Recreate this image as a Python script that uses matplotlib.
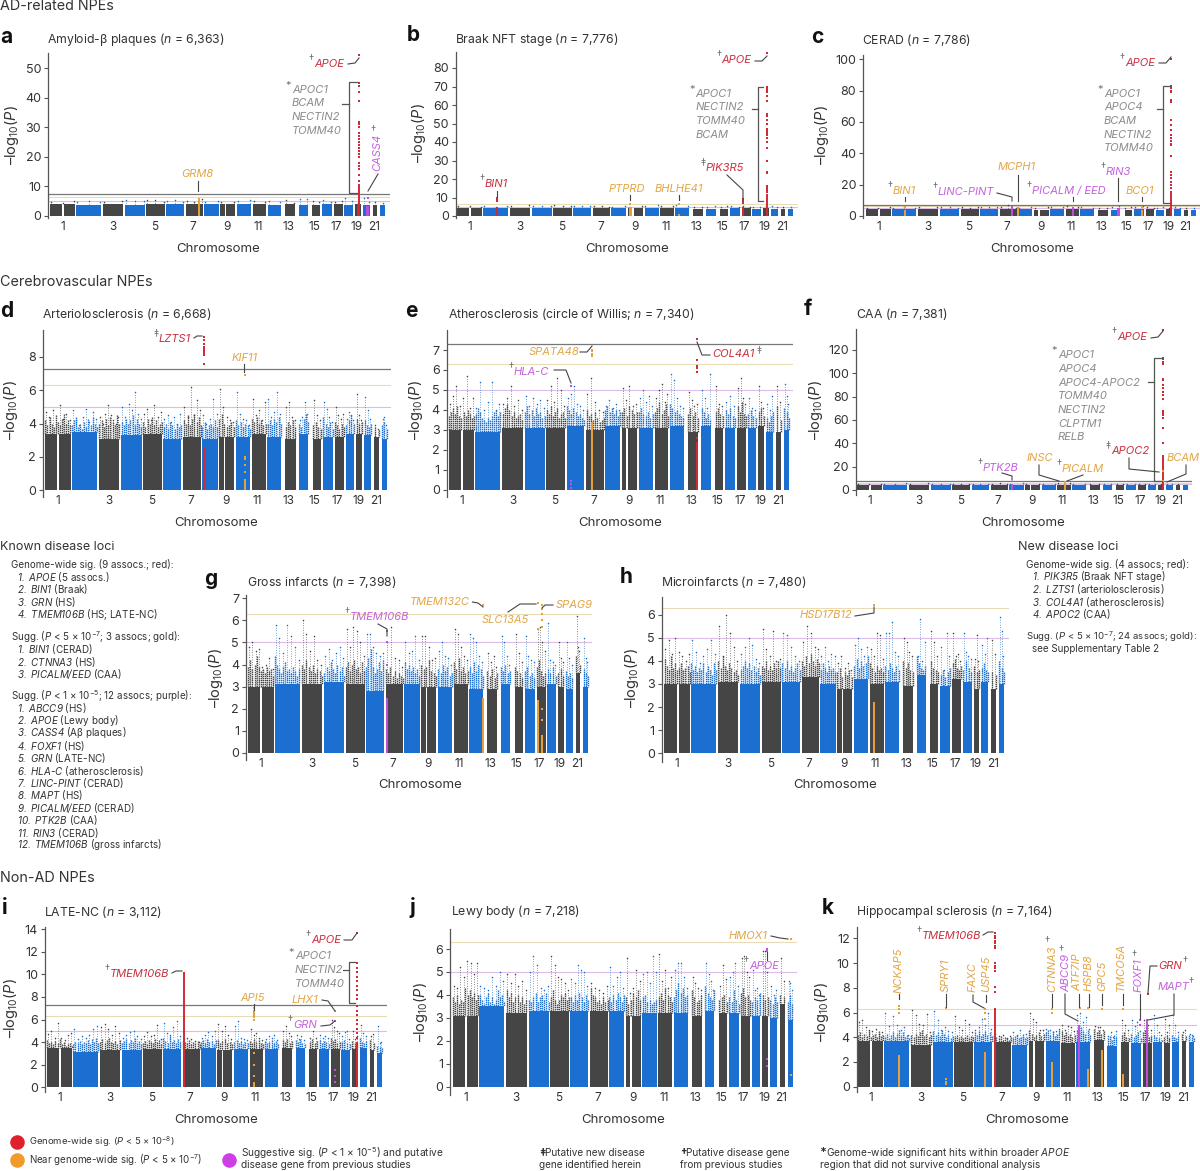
#!/usr/bin/env python
"""
Manhattan plots of neuropathology GWAS, panels a-k, with gene labels and loci lists.
"""

import numpy as np
import matplotlib
matplotlib.use("Agg")
import matplotlib.pyplot as plt
import matplotlib.font_manager as fm

W, H = 1200, 1171
GRAY = "#454545"
BLUE = "#1a6fd0"
COLORS = {"r": "#cf2a36", "g": "#e8a23a", "p": "#c14fe0", "k": "#8c8c8c"}
TEXT_COLORS = {"r": "#c9303f", "g": "#e3a645", "p": "#c562df", "k": "#8c8c8c"}
NEAR_LINE = "#e9dcb4"
SUGG_LINE = "#dcbde9"

# first family that really has an italic face
ITALIC = next(f for f in ["Inter", "Open Sans", "Roboto", "Lato", "Liberation Sans"]
              if any(e.name == f and e.style == "italic" for e in fm.fontManager.ttflist))

plt.rcParams["font.family"] = ["Inter", "DejaVu Sans"]
plt.rcParams["mathtext.fontset"] = "custom"
plt.rcParams["mathtext.rm"] = "Inter"
plt.rcParams["mathtext.it"] = ITALIC + ":italic"
plt.rcParams["mathtext.cal"] = ITALIC + ":italic"  # digits stay italic this way
plt.rcParams["mathtext.bf"] = "Inter:bold"

# chromosome extents on a shared genome axis (chr1 and chr9 have a centromere gap)
CHR_SEGMENTS = [[(0, 37), (43, 77)], [(80, 156)], [(162, 223)], [(229, 290)], [(294, 351)],
                [(355, 409)], [(415, 468)], [(471, 517)], [(521, 535), (540, 567)], [(572, 615)],
                [(620, 662)], [(666, 708)], [(720, 751)], [(761, 789)], [(803, 827)],
                [(833, 863)], [(869, 896)], [(901, 927)], [(933, 951)], [(957, 978)],
                [(987, 1001)], [(1010, 1025)]]
CHR_TICKS = [39, 192, 320, 437, 542, 637, 731, 809, 877, 939, 991]
CHR_LABELS = ["1", "3", "5", "7", "9", "11", "13", "15", "17", "19", "21"]

# top of the dense block per chromosome
A_SOLID = [3.9, 3.8, 4.1, 3.8, 4.2, 4.1, 3.9, 3.9, 3.9, 3.9, 3.9, 3.8, 4.0, 3.8, 3.8, 3.9, 4.0, 3.7, 3.9, 3.8, 3.7, 3.6]
B_SOLID = [4.2, 4.2, 4.4, 4.3, 4.3, 4.3, 4.2, 4.2, 4.1, 4.3, 4.3, 4.3, 4.0, 4.0, 3.9, 4.1, 4.2, 4.0, 4.1, 4.0, 4.0, 3.9]
C_SOLID = [4.2, 4.2, 4.4, 4.4, 4.4, 4.4, 4.3, 4.3, 4.0, 4.3, 4.5, 4.3, 4.0, 4.0, 4.1, 4.4, 4.4, 4.1, 4.2, 4.2, 3.8, 3.8]
D_SOLID = [3.4, 3.5, 3.1, 3.3, 3.4, 3.1, 3.2, 3.1, 3.2, 3.2, 3.4, 3.2, 3.1, 3.4, 3.1, 3.2, 3.2, 3.4, 3.4, 3.3, 3.2, 3.1]
E_SOLID = [3.0, 2.9, 3.1, 3.1, 3.1, 3.2, 3.0, 3.2, 3.1, 3.1, 3.1, 3.2, 2.9, 3.2, 3.1, 3.1, 3.1, 3.1, 3.2, 2.9, 2.9, 3.0]
F_SOLID = [4.2, 4.2, 4.3, 4.3, 4.3, 4.3, 4.3, 4.3, 4.2, 4.3, 4.3, 4.3, 4.2, 4.2, 4.2, 4.2, 4.2, 4.2, 4.2, 4.2, 4.0, 4.0]
G_SOLID = [3.0, 3.1, 3.1, 3.2, 3.1, 2.8, 3.1, 3.1, 3.0, 3.0, 3.1, 2.9, 2.9, 3.1, 3.0, 2.9, 3.0, 3.1, 3.0, 2.9, 3.6, 3.0]
H_SOLID = [3.0, 3.0, 3.1, 3.0, 3.1, 3.1, 3.3, 3.0, 2.8, 3.2, 3.0, 3.1, 2.9, 3.4, 3.0, 2.9, 3.2, 3.1, 2.8, 3.1, 2.8, 3.0]
I_SOLID = [3.5, 3.1, 3.3, 3.3, 3.4, 3.4, 3.4, 3.5, 3.3, 3.4, 3.4, 3.4, 3.5, 3.5, 3.4, 3.4, 3.4, 3.3, 3.4, 3.5, 3.3, 3.0]
J_SOLID = [3.1, 3.5, 3.2, 3.3, 3.3, 3.3, 3.3, 3.3, 3.1, 3.2, 3.2, 3.2, 3.1, 3.3, 3.2, 3.2, 3.1, 3.1, 3.1, 3.0, 3.6, 2.9]
K_SOLID = [3.7, 3.7, 3.4, 3.6, 3.6, 3.6, 3.6, 3.4, 3.7, 3.7, 3.5, 3.6, 3.8, 3.3, 3.6, 3.5, 3.5, 3.6, 3.5, 3.6, 3.7, 3.6]

# fuzzy upper edge of the dense block, read chromosome by chromosome
D_SHOULDER = [[4.2, 3.9, 4.4, 4.0, 3.8, 4.5, 4.1, 3.9, 4.3, 4.6, 4.0, 4.2, 3.9], [3.9, 4.2, 4.4, 3.8, 4.0, 3.7, 4.1, 3.8, 4.3, 3.9, 4.4, 4.0, 3.8],
              [4.0, 4.2, 3.8, 4.3, 3.9, 4.4, 4.1, 3.9, 4.5, 4.0], [4.1, 3.9, 4.3, 4.0, 4.2, 4.5, 3.9, 4.3, 4.0, 3.8], [4.1, 3.8, 4.3, 4.0, 4.4, 3.9, 4.2, 3.8, 4.0, 4.1],
              [3.8, 4.0, 3.7, 4.1, 3.9, 3.7, 4.0, 3.8, 3.9], [4.2, 4.0, 4.5, 3.9, 4.3, 4.6, 4.1, 4.4, 3.9], [3.8, 4.1, 3.7, 3.9, 4.0, 3.8, 4.2, 3.8],
              [4.3, 4.6, 4.0, 3.8, 3.9, 4.1, 3.8], [4.2, 3.9, 4.1, 3.8, 4.0, 3.9, 3.7], [4.3, 4.1, 4.4, 4.0, 4.2, 3.9, 4.0], [4.0, 4.2, 3.9, 4.3, 4.1, 4.4, 4.0],
              [3.8, 4.1, 3.9, 4.2, 3.8], [4.0, 3.8, 4.3, 4.6, 4.1], [3.9, 4.1, 3.8, 3.7], [4.4, 4.0, 3.8, 4.1, 3.7], [4.1, 3.9, 3.7, 4.0, 3.8],
              [3.9, 4.2, 4.5, 4.0], [4.3, 4.0, 4.1], [4.2, 3.9, 3.8, 4.0], [3.8, 3.6], [3.9, 4.1, 3.7]]
E_SHOULDER = [[3.7, 3.9, 4.1, 3.8, 4.2, 3.7, 3.6, 3.9, 3.7, 4.0, 3.8, 3.6, 3.7], [3.8, 4.1, 3.9, 3.6, 3.5, 3.4, 3.6, 3.5, 3.7, 3.9, 4.0, 3.7, 3.9],
              [3.8, 4.1, 4.3, 4.0, 3.7, 3.9, 3.6, 3.7, 3.8, 3.5], [3.9, 4.2, 3.8, 4.0, 3.7, 4.1, 3.8, 3.9, 3.6, 3.7], [4.0, 3.8, 4.2, 3.7, 3.9, 4.1, 3.6, 3.8, 3.9, 3.6],
              [4.2, 4.0, 3.8, 4.1, 3.9, 3.7, 3.8, 3.6, 3.5], [4.0, 3.7, 3.8, 3.5, 3.9, 3.6, 3.4, 3.5, 3.6], [4.0, 4.2, 3.9, 4.1, 3.8, 4.0, 3.7, 3.9],
              [3.9, 4.1, 3.7, 4.2, 4.0, 3.8, 3.9], [3.9, 4.1, 3.8, 3.7, 3.9, 3.6, 3.8], [3.9, 4.1, 4.4, 3.8, 4.0, 4.3, 3.7], [4.3, 4.1, 3.9, 4.0, 3.8, 3.7, 3.6],
              [3.8, 4.1, 3.7, 3.9, 3.6], [4.1, 3.9, 3.6, 3.8, 3.5], [3.9, 4.1, 3.8, 3.7], [4.0, 3.8, 4.1, 3.7, 3.6], [4.2, 3.9, 4.4, 3.8, 3.7],
              [3.8, 4.0, 3.7, 3.6], [3.9, 4.1, 3.7], [3.6, 3.4, 3.7, 3.9], [4.2, 3.5], [4.1, 3.9, 3.6]]
G_SHOULDER = [[3.9, 4.2, 3.8, 4.0, 4.4, 3.9, 3.7, 3.8, 3.6, 3.9, 3.7, 3.8, 3.5], [4.4, 4.0, 3.8, 3.6, 3.9, 4.1, 3.7, 3.8, 3.6, 3.9, 3.7, 3.5, 3.8],
              [4.0, 3.8, 4.2, 3.9, 3.7, 4.0, 3.6, 3.8, 3.7, 3.5], [3.6, 3.9, 3.7, 4.1, 3.8, 3.6, 4.0, 3.7, 3.9, 3.5], [3.9, 4.1, 3.7, 4.0, 4.2, 3.8, 3.9, 3.6, 4.1, 3.7],
              [3.9, 4.3, 4.7, 3.9, 3.6, 3.8, 4.1, 3.7, 4.2], [3.8, 3.6, 3.9, 3.5, 3.7, 3.4, 3.6, 3.5, 3.4], [4.1, 3.8, 4.0, 3.7, 3.9, 3.6, 3.8, 3.5],
              [4.0, 3.8, 3.9, 4.2, 3.7, 3.6, 3.5], [3.8, 3.6, 4.0, 3.7, 3.9, 3.5, 3.6], [4.1, 3.8, 4.3, 3.7, 3.9, 3.6, 3.7], [3.9, 3.6, 4.1, 3.7, 4.0, 3.8, 3.5],
              [3.7, 3.5, 3.8, 3.4, 3.6], [3.9, 3.7, 4.0, 3.6, 3.7], [3.9, 3.7, 3.6, 3.4], [3.7, 3.9, 3.5, 3.6, 3.4], [3.9, 4.2, 3.7, 3.5, 3.6],
              [3.8, 3.6, 3.9, 3.5], [3.6, 3.8, 3.5], [3.7, 3.5, 3.6, 3.4], [4.4, 4.0], [3.8, 3.6, 3.5]]
H_SHOULDER = [[4.1, 3.8, 3.6, 4.2, 3.7, 3.9, 3.6, 3.7, 3.9, 3.6, 3.7, 3.8, 3.5], [3.9, 3.6, 3.8, 3.5, 3.7, 3.6, 3.9, 3.5, 3.8, 3.6, 3.4, 3.9, 3.6],
              [4.0, 3.7, 4.2, 3.8, 3.6, 3.9, 3.7, 3.5, 3.6, 3.4], [3.6, 3.8, 4.0, 3.7, 3.9, 3.6, 3.8, 3.5, 3.7, 3.4], [3.8, 3.7, 4.0, 3.6, 3.8, 3.6, 3.9, 3.7, 4.0, 3.7],
              [3.9, 3.7, 4.0, 3.6, 3.8, 3.5, 3.7, 3.9, 3.6], [4.0, 3.8, 4.2, 3.9, 4.3, 4.0, 3.8, 4.1, 3.9], [3.6, 3.9, 3.7, 3.5, 3.8, 3.6, 3.7, 3.5],
              [3.5, 3.7, 3.3, 3.5, 3.4, 3.6, 3.3], [3.8, 4.1, 3.7, 4.0, 3.8, 3.9, 4.2], [3.9, 3.7, 3.5, 3.8, 3.6, 3.7, 3.5], [3.8, 3.6, 3.9, 3.7, 3.5, 3.8, 3.6],
              [4.0, 3.7, 3.9, 3.6, 3.5], [4.2, 3.9, 3.7, 3.6, 3.8], [4.0, 3.7, 3.6, 3.5], [3.4, 3.6, 3.3, 3.5, 3.7], [3.9, 4.1, 3.7, 3.6, 3.8],
              [3.6, 4.0, 3.7, 3.5], [3.8, 3.5, 3.6], [3.7, 3.9, 3.6, 3.5], [3.5, 3.4], [4.0, 3.7, 3.5]]
I_SHOULDER = [[4.2, 3.9, 4.0, 3.8, 4.1, 3.9, 4.3, 3.8, 4.0, 3.7, 3.8, 3.9, 3.7], [3.8, 4.0, 3.9, 4.1, 3.8, 4.0, 3.9, 4.2, 3.8, 4.3, 4.0, 4.4, 3.9],
              [4.0, 4.3, 3.9, 4.2, 4.4, 4.0, 3.9, 4.1, 3.8, 4.2], [3.9, 4.1, 4.3, 3.9, 4.2, 4.0, 4.4, 3.9, 4.1, 3.8], [3.9, 4.1, 3.8, 4.2, 4.0, 3.9, 4.3, 4.0, 4.2, 3.8],
              [4.4, 4.1, 3.9, 4.5, 4.0, 4.2, 3.9, 4.3, 4.0], [4.1, 4.0, 3.9, 4.2, 3.8, 4.0, 3.9, 4.1, 3.8], [4.0, 4.2, 3.9, 4.3, 4.0, 4.1, 3.8, 4.2],
              [4.2, 3.9, 4.1, 4.3, 3.9, 4.0, 3.8], [4.0, 4.2, 3.9, 4.1, 3.8, 4.0, 3.9], [4.1, 3.9, 4.3, 4.0, 4.2, 3.9, 3.8], [4.1, 3.9, 4.0, 4.2, 3.9, 4.1, 3.8],
              [4.2, 4.0, 4.3, 3.9, 4.1], [4.2, 4.0, 4.3, 3.9, 3.8], [4.0, 4.3, 3.9, 4.1], [4.2, 3.9, 4.1, 4.0, 3.8], [4.4, 4.1, 4.3, 3.9, 4.0],
              [4.0, 4.2, 3.9, 3.8], [4.1, 3.9, 4.0], [4.4, 4.0, 3.9, 4.1], [4.2, 3.9], [3.7, 3.6, 3.5]]
J_SHOULDER = [[3.9, 3.7, 4.0, 3.6, 3.8, 3.7, 4.3, 4.0, 4.2, 3.9, 4.1, 3.8, 4.0], [4.0, 3.8, 3.6, 3.9, 4.1, 3.7, 3.9, 3.6, 3.8, 4.2, 3.9, 4.0, 3.7],
              [4.2, 3.9, 4.1, 3.7, 3.9, 4.0, 3.7, 3.9, 3.6, 3.8], [3.8, 3.7, 3.9, 4.1, 3.7, 3.9, 4.0, 3.8, 4.1, 3.7], [3.9, 4.2, 3.8, 3.6, 3.8, 4.0, 3.9, 4.1, 3.8, 3.9],
              [3.9, 3.7, 4.0, 3.8, 4.1, 3.9, 3.7, 4.0, 3.8], [4.3, 4.0, 3.9, 3.7, 3.8, 3.6, 3.9, 3.7, 3.8], [3.9, 3.7, 4.0, 3.8, 4.1, 3.9, 3.7, 4.0],
              [3.9, 3.6, 3.8, 4.1, 3.9, 4.2, 3.8], [3.9, 4.0, 3.7, 3.8, 3.6, 3.7, 3.8], [3.9, 4.1, 3.8, 4.3, 4.0, 3.9, 3.7], [3.9, 4.2, 4.5, 4.1, 4.3, 3.9, 4.0],
              [4.2, 3.9, 3.7, 3.8, 4.0], [4.4, 4.1, 3.9, 3.8, 4.2], [3.8, 3.9, 4.0, 3.7], [3.9, 3.7, 4.2, 3.8, 3.6], [4.1, 4.3, 3.9, 4.0, 3.8],
              [3.7, 3.9, 3.8, 4.1], [4.0, 3.8, 3.9], [3.8, 3.6, 3.9, 3.7], [4.0, 3.9], [3.7, 4.0, 3.6]]
K_SHOULDER = [[4.2, 4.4, 4.0, 4.3, 4.1, 4.5, 4.0, 4.2, 4.3, 4.0, 4.5, 4.1, 4.2], [4.0, 4.3, 3.9, 4.2, 4.4, 4.0, 4.3, 4.6, 4.1, 4.4, 4.0, 4.2, 3.9],
              [4.2, 4.0, 4.3, 4.1, 4.4, 4.6, 4.1, 4.3, 4.0, 4.2], [4.5, 4.2, 4.4, 4.1, 4.6, 4.3, 4.0, 4.2, 3.9, 4.1], [4.0, 4.2, 3.9, 4.1, 3.9, 4.0, 4.2, 3.9, 4.1, 4.0],
              [4.4, 4.2, 4.5, 4.1, 4.3, 4.5, 4.2, 4.4, 4.1], [4.2, 4.0, 3.9, 4.1, 3.8, 4.0, 3.9, 3.8, 4.0], [3.9, 4.1, 4.2, 3.9, 4.0, 4.3, 3.9, 4.0],
              [4.6, 4.3, 4.0, 4.2, 4.4, 4.1, 4.3], [4.4, 4.6, 4.2, 4.5, 4.1, 4.3, 4.6], [4.5, 4.2, 4.4, 4.1, 4.3, 4.0, 4.2], [4.6, 4.4, 4.8, 4.5, 4.3, 4.6, 4.2],
              [4.7, 4.4, 4.6, 4.3, 4.5], [3.9, 4.1, 3.8, 4.2, 4.0], [4.2, 4.4, 4.0, 3.9], [4.3, 4.0, 4.2, 4.4, 3.9], [4.4, 4.6, 4.2, 4.0, 4.1],
              [4.2, 4.0, 3.9, 3.8], [4.0, 4.2, 3.9], [4.2, 4.0, 3.9, 4.1], [4.3, 4.1], [4.2, 4.0, 3.9]]
SHOULDERS = dict(d=D_SHOULDER, e=E_SHOULDER, g=G_SHOULDER, h=H_SHOULDER, i=I_SHOULDER, j=J_SHOULDER, k=K_SHOULDER)

# tallest scattered association
A_PEAKS = [[4.9, 4.5, 5.0], [4.8, 5.0, 4.6], [4.6, 5.1], [5.4, 5.0, 5.2], [5.3, 5.5, 4.9], [5.2, 5.3, 4.8], [5.2, 4.8, 5.6],
           [4.8, 5.2], [4.6, 4.7], [5.1, 5.4], [5.0, 4.7], [5.2, 4.9], [5.5, 4.5], [5.9, 5.7], [5.0, 4.6], [5.4, 4.8],
           [4.9, 5.0], [6.0, 5.2], [4.4], [6.0, 4.6], [4.7], [4.4]]
B_PEAKS = [[5.2, 5.5, 5.0], [5.4, 5.0, 5.6], [5.4, 5.9], [5.6, 5.4, 5.2], [5.8, 5.2, 5.4], [5.5, 5.3, 5.6], [5.2, 5.4, 5.0],
           [5.0, 5.5], [5.1, 5.2], [5.3, 5.8], [5.6, 5.2], [5.9, 5.2], [5.1, 5.0], [5.0, 5.3], [4.8, 5.2], [5.5, 5.0],
           [5.4, 5.1], [5.0, 5.1], [5.4], [5.6, 5.1], [5.0], [4.6]]
C_PEAKS = [[5.4, 5.0, 6.0], [5.4, 5.8, 5.0], [5.6, 6.0], [5.5, 6.0, 5.3], [5.8, 5.4, 5.6], [5.6, 5.5, 5.8], [5.8, 7.0, 5.4],
           [5.4, 5.7], [5.2, 5.5], [5.5, 5.8], [6.5, 5.6], [5.6, 5.4], [5.2, 5.0], [5.6, 6.2], [5.4, 5.8], [5.6, 6.4],
           [5.8, 5.4], [5.2, 5.5], [5.4], [5.8, 5.2], [5.0], [4.8]]
F_PEAKS = [[5.2, 5.5, 5.0], [5.4, 5.0, 5.6], [5.4, 5.6], [5.4, 5.5, 5.2], [5.5, 5.2, 5.4], [5.5, 5.3, 5.5], [5.2, 5.6, 5.0],
           [5.0, 5.6], [5.1, 5.2], [5.3, 5.5], [5.6, 6.0], [5.5, 5.2], [5.1, 5.0], [5.0, 5.3], [5.0, 5.2], [5.5, 5.0],
           [5.4, 5.1], [5.0, 5.1], [5.4], [5.4, 5.1], [5.0], [4.6]]
D_PEAKS = [[4.7, 4.4, 4.8, 4.0, 5.1, 4.3, 4.6, 4.2], [4.8, 4.2, 3.9, 4.4, 4.9, 4.1, 4.7, 4.3], [4.4, 4.0, 4.6, 5.1, 4.5, 4.2, 4.0, 4.4],
           [5.0, 4.4, 5.2, 4.8, 5.9, 4.6, 4.3], [4.6, 4.9, 4.2, 5.1, 4.4, 4.7], [4.3, 4.5, 4.1, 4.4, 4.0, 4.6], [5.0, 4.4, 6.2, 4.5, 5.4, 4.8],
           [4.5, 4.0, 4.3, 5.5, 4.6], [6.1, 5.0, 4.4, 4.2, 4.1], [5.9, 4.6, 4.3, 4.2, 3.9], [5.5, 4.5, 4.8, 4.2, 5.3], [5.5, 4.4, 4.7, 5.9, 4.6],
           [5.0, 5.3, 4.4, 4.2], [4.2, 4.4, 5.3, 4.6], [5.4, 4.5, 4.2], [5.3, 4.9, 4.4, 4.1], [5.0, 4.5, 4.3, 4.6], [4.3, 4.7, 4.5, 4.2],
           [5.8, 4.5, 4.2], [5.6, 4.8, 4.3], [3.9, 3.7], [4.3, 4.4, 3.9]]
E_PEAKS = [[4.3, 4.7, 5.2, 4.2, 4.6, 5.7, 4.1, 4.6], [4.1, 5.4, 4.0, 4.4, 5.4, 4.0, 4.3], [4.3, 4.6, 5.2, 4.2, 4.5, 4.0],
           [4.7, 4.2, 4.6, 4.3, 4.5, 4.1], [4.5, 5.2, 4.4, 5.6, 5.0, 4.2], [4.6, 4.8, 5.2, 4.3, 4.2, 4.0], [4.8, 5.6, 4.4, 4.0, 3.9],
           [4.2, 4.5, 4.1, 4.3, 4.0], [5.1, 4.5, 5.2, 4.2, 4.3], [4.6, 5.0, 4.4, 4.7, 4.2], [4.6, 5.0, 5.3, 4.4, 4.8], [5.8, 5.5, 4.6, 4.2, 4.1],
           [4.9, 4.5, 4.2, 4.3], [5.0, 4.6, 4.1, 5.8], [5.2, 4.3, 4.2], [4.4, 4.7, 4.2], [5.1, 5.6, 4.6, 4.3], [4.6, 4.1, 4.0],
           [5.2, 4.4, 4.1], [4.3, 4.0, 4.7], [5.2, 4.4], [5.3, 4.7, 4.3]]
G_PEAKS = [[4.8, 5.0, 4.6, 4.7, 3.9, 4.0, 4.3, 3.8], [5.8, 5.2, 4.5, 5.8, 5.3, 4.8, 4.2], [6.0, 5.4, 4.6, 5.3, 4.2, 4.0],
           [4.4, 4.7, 4.2, 4.5, 4.8, 4.3], [5.6, 4.8, 5.7, 5.5, 5.0, 4.4], [5.4, 5.4, 4.8, 4.5, 4.4, 4.5], [5.0, 5.7, 4.3, 4.2, 3.9],
           [5.0, 4.5, 4.6, 5.3, 4.2], [5.3, 5.3, 4.8, 4.2, 4.3], [4.6, 5.0, 4.4, 4.3, 4.0], [5.6, 5.4, 4.8, 4.4, 4.2], [5.4, 5.2, 5.0, 4.4, 4.1],
           [4.5, 4.1, 4.4, 3.9], [5.3, 5.0, 4.4, 4.0], [5.4, 4.5, 4.1], [5.3, 4.4, 4.2, 4.1], [5.6, 5.7, 5.0, 4.6], [5.9, 4.2, 4.1, 4.0],
           [5.0, 4.3, 4.1], [5.0, 4.3, 4.0], [6.2, 4.8, 4.6], [5.2, 4.3, 4.1]]
H_PEAKS = [[4.5, 4.9, 4.3, 5.0, 4.4, 4.2, 4.0, 4.3], [4.9, 4.4, 3.9, 4.2, 4.5, 4.9, 4.3], [5.5, 4.2, 6.0, 5.2, 4.6, 4.0],
           [4.3, 4.6, 5.0, 4.7, 4.1, 3.9], [5.4, 4.5, 4.2, 5.3, 4.0, 4.1], [5.2, 5.1, 4.6, 4.2, 4.0], [4.8, 5.5, 5.2, 4.6, 4.5],
           [4.2, 4.6, 4.0, 4.3, 4.2], [3.9, 4.2, 3.7, 3.9, 3.6], [4.7, 5.0, 4.5, 4.2, 4.6], [4.5, 4.2, 5.2, 5.1, 4.1], [5.2, 5.2, 5.7, 4.4, 4.2],
           [5.0, 4.8, 4.4, 4.2], [4.2, 5.8, 4.0, 4.8], [5.3, 4.8, 4.2], [4.6, 3.6, 5.2, 4.2], [5.2, 4.2, 4.3, 4.0], [5.2, 4.4, 4.2, 4.1],
           [4.1, 5.1, 4.0], [4.7, 4.3, 5.0], [4.9, 4.3], [5.9, 5.3, 4.2]]
I_PEAKS = [[4.7, 5.0, 4.4, 5.7, 4.4, 4.2, 4.6, 4.8], [5.2, 4.3, 4.5, 4.4, 4.6, 5.2, 5.4], [5.3, 5.6, 5.2, 4.6, 5.4, 4.8],
           [4.4, 4.6, 4.9, 5.0, 4.5, 4.3], [4.5, 4.9, 4.5, 4.6, 5.5, 4.3], [5.7, 4.8, 4.6, 5.3, 5.9, 4.5], [4.3, 4.4, 4.3, 4.1, 4.0],
           [4.4, 4.6, 4.9, 4.5, 5.0], [5.6, 5.0, 5.4, 4.6, 4.3], [5.4, 5.9, 4.4, 4.3, 4.2], [5.2, 4.6, 4.8, 4.4, 4.2], [4.3, 4.5, 4.4, 4.6, 4.2],
           [5.0, 5.4, 4.8, 4.5], [4.6, 4.3, 4.5, 4.2], [4.4, 5.0, 4.4], [4.6, 4.4, 4.5, 4.4], [6.0, 5.3, 5.0, 4.8], [4.5, 4.9, 5.0, 4.3],
           [5.0, 4.3, 4.5], [5.5, 4.8, 4.5], [4.5, 4.7], [5.4, 3.9, 4.0]]
J_PEAKS = [[4.4, 4.3, 5.2, 4.8, 5.5, 5.4, 4.9, 5.4], [4.4, 4.3, 4.2, 4.8, 4.4, 5.0, 4.6], [4.9, 4.5, 4.9, 4.4, 4.6, 4.2],
           [5.0, 5.7, 5.3, 4.3, 4.2, 4.4], [5.7, 5.3, 4.8, 4.7, 4.5, 4.2], [4.7, 4.5, 5.3, 5.1, 5.0, 4.4], [4.5, 4.3, 4.2, 4.1, 4.4],
           [5.2, 4.4, 4.8, 5.0, 4.3], [5.6, 4.1, 4.3, 5.1, 4.6], [4.9, 5.0, 4.5, 5.7, 5.0], [5.8, 4.6, 5.1, 4.3, 4.8], [5.1, 5.4, 5.4, 4.8, 4.3],
           [4.8, 4.5, 4.3, 4.2], [5.4, 4.9, 4.6, 4.2], [4.4, 5.3, 4.7], [4.8, 5.0, 5.4, 4.4], [5.6, 5.7, 5.0, 4.8], [5.1, 4.2, 4.3, 4.0],
           [5.9, 5.9, 5.0], [4.4, 4.0, 4.2], [5.6, 4.6], [4.6, 4.5, 4.2]]
K_PEAKS = [[5.2, 5.4, 4.8, 4.6, 4.5, 4.7, 4.3, 4.4], [6.0, 4.9, 5.7, 5.0, 4.6, 4.8, 4.2], [6.2, 5.8, 5.1, 5.0, 5.9, 4.4],
           [6.1, 5.4, 4.6, 4.8, 4.5, 4.4], [5.7, 4.8, 4.6, 5.4, 5.1, 4.4], [4.6, 4.8, 5.5, 5.0, 6.0, 4.7], [4.3, 4.1, 4.2, 3.9, 4.1],
           [4.4, 4.2, 4.6, 4.0, 4.3], [6.0, 5.5, 5.2, 4.6, 4.6], [4.7, 4.6, 4.4, 4.5, 4.7], [5.0, 4.6, 4.9, 4.8, 4.5], [5.8, 6.0, 5.2, 5.6, 4.7],
           [4.9, 4.8, 4.8, 4.6], [4.1, 4.4, 4.0, 4.5], [5.4, 5.0, 4.6], [5.4, 4.9, 5.2, 4.5], [5.4, 4.8, 5.0, 4.6], [5.8, 5.0, 4.4, 4.2],
           [5.5, 4.4, 5.0], [5.8, 5.0, 4.4], [4.4, 4.6], [4.3, 4.2, 4.1]]

# highlighted loci: genome position, class, solid column height, separate points
A_HITS = [(946, "r", 11, [54.5, 45, 44, 42, 39, 32, 31, 30, 28, 27, 26, 25, 24, 23, 22, 21, 20, 18, 17, 16, 14, 12]),
          (941, "r", 4, []), (456, "g", 6, []), (970, "p", 3.5, []), (974, "p", 3.5, []), (973, "p", 0, [6])]
B_HITS = [(946, "r", 12, [88, 70, 69, 68, 67, 65, 62, 55, 54, 52, 50, 47, 46, 45, 44, 42, 40, 37, 30, 24, 23, 16, 15, 14, 13]),
          (122, "r", 5, [8, 9, 10]), (527, "g", 5, [6.5]), (531, "g", 5, []), (676, "g", 1, [6.5]), (871, "r", 5, [7, 8, 9])]
C_HITS = [(947, "r", 16, [100, 83, 82, 80, 79, 74, 73, 61, 58, 55, 52, 50, 48, 46, 45, 38, 28, 26, 24, 22, 20, 18]),
          (121, "g", 4, [6]), (453, "p", 5, [5.5]), (471, "g", 6, []), (643, "p", 6, []), (783, "p", 5, []),
          (787, "p", 5, []), (857, "g", 4, [6])]
D_HITS = [(476, "r", 2.6, [9.2, 9.0, 8.8, 8.6, 8.5, 8.4, 8.3, 8.2, 8.1, 7.6]),
          (598, "g", 0.7, [1.1, 1.5, 1.9, 2.0, 6.9])]
E_HITS = [(748, "r", 2.4, [7.55, 6.5, 6.2, 6.1, 5.9, 2.6]), (432, "g", 3.4, [7.0, 6.95, 6.8, 6.7]),
          (367, "p", 0, [0.1, 0.3, 0.45, 5.2])]
F_HITS = [(947, "r", 30, [137, 113, 112, 110, 108, 95, 94, 90, 87, 84, 81, 78, 68, 66, 64, 62, 53, 40]),
          (481, "p", 5, []), (644, "g", 8, []), (948, "g", 0, [16, 8])]
G_HITS = [(420, "p", 2.5, [4.0, 5.0, 5.5]), (708, "g", 2.5, [6.7]), (873, "g", 2.4, [6.8, 5.6]),
          (885, "g", 0.8, [1.5, 2.0, 6.7, 6.5, 6.3, 6.0, 5.7])]
H_HITS = [(632, "g", 2.2, [6.4])]
I_HITS = [(419, "r", 10.2, []), (947, "r", 4, [13.7, 11, 10.6, 10.2, 9.8, 9.4, 9, 8.6, 8.2, 7.8, 7.2, 6.8, 6.4, 6, 5.6, 5.2, 4.8, 4.4]),
          (632, "g", 0.5, [1, 2, 3, 6, 6.2, 6.4, 6.6, 6.8, 7]), (880, "g", 0, [6.8]), (882, "p", 0, [0.5, 1, 1.5, 5.9])]
J_HITS = [(1019, "g", 0, [6.45, 0.5]), (947, "p", 0, [0.9, 1.2, 6.0, 5.9])]
K_HITS = [(419, "r", 6.4, [12.4, 12.2, 12, 11.8, 11.6, 11.4, 11.2, 10, 9.8, 9.6, 9.4, 8.1, 7.7]),
          (124, "g", 2.6, [6.0, 6.3, 6.5]), (269, "g", 0, [0.2, 0.4, 0.6, 6.4]), (388, "g", 2.8, [5.5, 6.0, 6.3]),
          (592, "g", 2.0, [6.0, 6.3]), (674, "p", 5.0, []), (678, "g", 0, [6.4]), (703, "g", 1.4, [6.4]),
          (743, "g", 3.0, [6.3]), (808, "g", 1.0, [6.3]), (860, "p", 0, [5.0, 5.4]), (883, "p", 5.5, []), (884, "r", 0, [7.5])]

Y_TICKS = {"a": range(0, 51, 10), "b": range(0, 81, 10), "c": range(0, 101, 20), "d": range(0, 9, 2),
           "e": range(0, 8), "f": range(0, 121, 20), "g": range(0, 8), "h": range(0, 7), "i": range(0, 15, 2),
           "j": range(0, 7), "k": range(0, 13, 2)}

TITLES = {"a": r"Amyloid-β plaques ($n$ = 6,363)", "b": r"Braak NFT stage ($n$ = 7,776)", "c": r"CERAD ($n$ = 7,786)",
          "d": r"Arteriolosclerosis ($n$ = 6,668)", "e": r"Atherosclerosis (circle of Willis; $n$ = 7,340)",
          "f": r"CAA ($n$ = 7,381)", "g": r"Gross infarcts ($n$ = 7,398)", "h": r"Microinfarcts ($n$ = 7,480)",
          "i": r"LATE-NC ($n$ = 3,112)", "j": r"Lewy body ($n$ = 7,218)", "k": r"Hippocampal sclerosis ($n$ = 7,164)"}

SOLIDS = dict(a=A_SOLID, b=B_SOLID, c=C_SOLID, d=D_SOLID, e=E_SOLID, f=F_SOLID, g=G_SOLID, h=H_SOLID, i=I_SOLID, j=J_SOLID, k=K_SOLID)
PEAKS = dict(a=A_PEAKS, b=B_PEAKS, c=C_PEAKS, d=D_PEAKS, e=E_PEAKS, f=F_PEAKS, g=G_PEAKS, h=H_PEAKS, i=I_PEAKS, j=J_PEAKS, k=K_PEAKS)
HITS = dict(a=A_HITS, b=B_HITS, c=C_HITS, d=D_HITS, e=E_HITS, f=F_HITS, g=G_HITS, h=H_HITS, i=I_HITS, j=J_HITS, k=K_HITS)
GENOME_LINE = "acdefi"

# panel layout in pixels: spine x, data left, data right, line end, top, zero y, px per unit, spine bottom
LAYOUT = {"a": (48, 50, 385, 390, 53, 216, 2.953, 218),
          "b": (455.7, 457, 793, 798, 52, 216, 1.85, 218),
          "c": (863, 866, 1196, 1200, 55, 216, 1.567, 218),
          "d": (43, 45, 387, 391, 330, 490.3, 16.67, 497),
          "e": (446.7, 448.7, 789, 793, 330, 489.7, 19.95, 497),
          "f": (855.7, 857, 1188, 1192, 329, 490, 1.167, 495),
          "g": (246, 248, 588.4, 592, 595, 752.7, 22.05, 760),
          "h": (661.8, 664.4, 1004, 1008.5, 596.7, 753.3, 23.1, 761.7),
          "i": (45, 47, 382, 387, 927, 1087.3, 11.29, 1091.7),
          "j": (450.3, 452.7, 792.7, 797, 929, 1086.7, 22.94, 1095),
          "k": (856.7, 858, 1194, 1197, 927, 1086.7, 12.36, 1091.7)}
XLABEL_POS = {"a": (218, 249), "b": (627, 249), "c": (1032, 249), "d": (216, 523), "e": (620, 523), "f": (1023, 523),
              "g": (420, 785), "h": (835, 785), "i": (216, 1120), "j": (623, 1120), "k": (1027, 1120)}
YLABEL_POS = {"a": (12, 135), "b": (419, 133), "c": (822, 135), "d": (11, 410), "e": (416, 410), "f": (816, 410),
              "g": (216, 678), "h": (632, 678), "i": (11, 1008), "j": (421, 1012), "k": (822, 1012)}
TITLE_POS = {"a": (47, 40), "b": (455, 40), "c": (862, 40), "d": (42, 314), "e": (447.5, 314), "f": (856, 314),
             "g": (247, 581.7), "h": (661.4, 581.7), "i": (44.5, 911.7), "j": (451, 911.7), "k": (856, 911.7)}
LETTER_POS = {"a": (0, 37), "b": (407, 35), "c": (811, 37), "d": (0, 311), "e": (405, 311), "f": (804, 309),
              "g": (204, 579), "h": (620, 577), "i": (2, 908), "j": (409, 908), "k": (822, 908)}


def draw_manhattan(fig, key):
    spine, left, right, end, top, zero, scale, bottom = LAYOUT[key]
    ax = fig.add_axes([spine / W, 1 - bottom / H, (end - spine) / W, (bottom - top) / H])
    per_unit = (right - left) / 1025
    ax.set_xlim((spine - left) / per_unit, (end - left) / per_unit)
    ax.set_ylim((zero - bottom) / scale, (zero - top) / scale)

    for i, segments in enumerate(CHR_SEGMENTS):
        color = GRAY if i % 2 == 0 else BLUE
        solid = SOLIDS[key][i]
        for start, stop in segments:
            ax.bar(start, solid, width=stop - start, align="edge", color=color, linewidth=0, zorder=2)
        first, last = segments[0][0], segments[-1][1]
        # stems run from the tip down so the dash phase does not line up across stems
        if key in SHOULDERS:
            edge = SHOULDERS[key][i]
            xs = np.linspace(first + 1, last - 1, len(edge))
            ax.vlines(xs, edge, solid, color=color, lw=1.0, linestyles=(0, (1, 0.5)), zorder=2)
        peaks = PEAKS[key][i]
        xs = np.linspace(first + 3, last - 3, len(peaks)) if len(peaks) > 1 else [(first + last) / 2]
        ax.vlines(xs, peaks, solid, color=color, lw=0.55, linestyles=(0, (1, 2.2)), zorder=2)
        ax.scatter(xs, peaks, s=1.2, color=color, linewidths=0, zorder=2)

    ax.axhline(5, color=SUGG_LINE, lw=0.8, zorder=1.5)
    ax.axhline(6.3, color=NEAR_LINE, lw=0.8, zorder=1.5)
    if key in GENOME_LINE:
        ax.axhline(7.3, color="#777777", lw=0.9, zorder=1.5)

    for pos, cls, solid, dots in HITS[key]:
        if solid:
            # thin bars can snap away to nothing, a line keeps its width
            ax.vlines(pos, 0, solid, color=COLORS[cls], lw=1.4, zorder=3)
        if dots:
            ax.scatter([pos] * len(dots), dots, s=3, marker="s", color=COLORS[cls], linewidths=0, zorder=3)

    for side in ("top", "right", "bottom"):
        ax.spines[side].set_visible(False)
    ax.spines["left"].set_color("#555555")
    ax.spines["left"].set_linewidth(0.9)
    ax.set_yticks(list(Y_TICKS[key]))
    ax.set_xticks(CHR_TICKS)
    ax.set_xticklabels(CHR_LABELS)
    ax.tick_params(axis="y", length=3, width=0.8, color="#555555", labelsize=9, labelcolor="#333333", pad=2)
    ax.tick_params(axis="x", length=0, labelsize=8.5, labelcolor="#333333", pad=(zero + 5 - bottom) * 0.72)
    ax.patch.set_alpha(0)

    width, height = end - spine, bottom - top
    lx, ly = XLABEL_POS[key]
    ax.set_xlabel("Chromosome", fontsize=9.5, color="#333333")
    ax.xaxis.set_label_coords((lx - spine) / width, (bottom - ly) / height)
    ax.xaxis.label.set_verticalalignment("center")
    yx, yy = YLABEL_POS[key]
    ax.set_ylabel(r"–log$_{10}$($P$)", fontsize=10.5, color="#333333")
    ax.yaxis.set_label_coords((yx - spine) / width, (bottom - yy) / height)
    ax.yaxis.label.set_verticalalignment("center")
    return ax


fig = plt.figure(figsize=(W / 100, H / 100), dpi=100)
for key in LAYOUT:
    draw_manhattan(fig, key)

ov = fig.add_axes([0, 0, 1, 1], zorder=10)
ov.set_xlim(0, W)
ov.set_ylim(H, 0)
ov.axis("off")
ov.patch.set_alpha(0)


def label(x, y, s, size=9, color="#333333", **kw):
    ov.text(x, y, s, fontsize=size, color=color, va=kw.pop("va", "center"), ha=kw.pop("ha", "left"), **kw)


def gene(x, y, name, cls, mark=None, mx=None, my=None):
    ov.text(x, y, name, fontsize=8, color=TEXT_COLORS[cls], family=ITALIC, style="italic", va="center", ha="left")
    if mark:
        if mx is not None and mx > x:
            label(mx, my, mark, size=7.5, color="#777777")
        else:
            label(x - 0.5, y - 5, mark, size=7.5, color="#777777", ha="right")


def vgene(x, bottom, name, cls, mark=None, mx=None, my=None):
    ov.text(x, bottom, name, fontsize=8, color=TEXT_COLORS[cls], family=ITALIC, style="italic",
            rotation=90, va="bottom", ha="center")
    if mark:
        label(mx, my, mark, size=7.5, color="#777777", ha="center")


def leader(*pts):
    xs, ys = zip(*pts)
    ov.plot(xs, ys, color="#444444", lw=0.8, solid_joinstyle="round")


def bracket(x, top, bottom, right, tick_y, tick_left):
    ov.plot([right, x, x, right], [top, top, bottom, bottom], color="#555555", lw=0.9)
    ov.plot([tick_left, x], [tick_y, tick_y], color="#555555", lw=0.9)


def gray_list(x, ys, names, mx, my):
    for y, name in zip(ys, names):
        gene(x, y, name, "k")
    label(mx - 1, my, "*", size=8, color="#777777", ha="right")


# section headers, letters, titles
label(0, 6, "AD-related NPEs", size=10.3)
label(0, 282, "Cerebrovascular NPEs", size=10.3)
label(0, 878, "Non-AD NPEs", size=10.3)
for key in LAYOUT:
    label(*LETTER_POS[key], key, size=15, color="#111111", fontweight="bold")
    label(*TITLE_POS[key], TITLES[key], size=8.8)

# panel a
gene(314, 64, "APOE", "r", "†"); leader((348, 64), (355, 63), (359, 58))
gray_list(292, [90, 103, 117, 131], ["APOC1", "BCAM", "NECTIN2", "TOMM40"], 292, 86)
bracket(349, 82, 193, 357, 104, 342)
gene(181, 174, "GRM8", "g"); leader((198, 181), (198, 191))
vgene(377, 171, "CASS4", "p", "†", 373, 130); leader((368, 191), (378, 174))
# panel b
gene(721.7, 60, "APOE", "r", "†"); leader((755, 61), (762, 61), (767, 56))
gray_list(695.7, [93.7, 107, 121, 134.5], ["APOC1", "NECTIN2", "TOMM40", "BCAM"], 695.7, 90)
bracket(757.7, 86.7, 200.7, 762.7, 108.7, 751.7)
gene(485, 184, "BIN1", "r", "†"); leader((497, 191), (497, 197))
gene(609, 189, "PTPRD", "g"); leader((629.7, 195), (629.7, 200))
gene(655, 189, "BHLHE41", "g"); leader((678.7, 195), (678.7, 200))
gene(706, 167.7, "PIK3R5", "r", "‡"); leader((727, 175), (743, 190), (743, 200))
# panel c
gene(1125, 63, "APOE", "r", "†"); leader((1159, 63), (1166, 63), (1171, 57))
gray_list(1104, [93.7, 107.5, 120.5, 134.5, 148], ["APOC1", "APOC4", "BCAM", "NECTIN2", "TOMM40"], 1104, 90)
bracket(1163, 85.7, 203, 1170, 108.7, 1157)
gene(893, 191, "BIN1", "g", "†"); leader((905, 197), (905, 201))
gene(938, 192, "LINC-PINT", "p", "†"); leader((997, 193), (1012, 197), (1012, 201))
gene(998, 167, "MCPH1", "g"); leader((1018, 175), (1018, 201))
gene(1032, 191, "PICALM / EED", "p", "†"); leader((1073, 197), (1073, 201))
gene(1106, 172, "RIN3", "p", "†"); leader((1118, 178), (1118, 201))
gene(1126, 191, "BCO1", "g"); leader((1142, 197), (1142, 201))
# panel d
gene(159, 339, "LZTS1", "r", "‡"); leader((194, 338), (197, 336), (202, 336))
gene(232, 358, "KIF11", "g"); leader((244, 364), (244, 372))
# panel e
gene(529, 352, "SPATA48", "g"); leader((580, 352), (587, 352), (592, 346))
gene(712, 354, "COL4A1", "r", "‡", 756, 351); leader((697, 342), (702, 355), (710, 355))
gene(514, 372, "HLA-C", "p", "†"); leader((554, 370), (566, 370), (571, 383))
# panel f
gene(1117, 337, "APOE", "r", "†"); leader((1151, 338), (1158, 337), (1163, 331))
gray_list(1058, [355, 369, 383, 396, 410, 424, 437],
          ["APOC1", "APOC4", "APOC4-APOC2", "TOMM40", "NECTIN2", "CLPTM1", "RELB"], 1058, 351)
bracket(1154, 358, 481, 1162, 382, 1148)
gene(983, 468, "PTK2B", "p", "†"); leader((1002, 473), (1012, 476), (1012, 480))
gene(1027, 458, "INSC", "g"); leader((1039, 465), (1039, 475), (1059, 481))
gene(1062, 469, "PICALM", "g", "†"); leader((1083, 475), (1067, 481))
gene(1111, 451, "APOC2", "r", "‡"); leader((1129, 458), (1129, 469), (1159, 472))
gene(1167, 458, "BCAM", "g"); leader((1186, 465), (1186, 474), (1167, 482))
# panel g
gene(410, 601.7, "TMEM132C", "g"); leader((472.5, 602), (478, 603), (483, 607))
gene(482, 620, "SLC13A5", "g"); leader((508, 612), (520, 604), (536, 604))
gene(555.5, 605, "SPAG9", "g"); leader((542, 608), (545, 605), (553, 605))
gene(350, 617, "TMEM106B", "p", "†"); leader((378, 624), (387, 629), (387, 636))
# panel h
gene(799.4, 615, "HSD17B12", "g"); leader((855, 616), (874, 613), (874, 607))
# panel i
gene(110, 974, "TMEM106B", "r", "†"); leader((172, 973), (176, 971), (182, 971))
gene(311, 940, "APOE", "r", "†"); leader((344, 940), (352, 940), (357, 933))
gray_list(295, [956, 970, 984], ["APOC1", "NECTIN2", "TOMM40"], 295, 953)
bracket(349, 962, 1003, 355, 970, 343)
gene(240, 998, "API5", "g"); leader((254, 1004), (254, 1010))
gene(292, 1000, "LHX1", "g"); leader((322, 1000), (328, 1001), (335, 1011))
gene(293, 1025, "GRN", "p", "†"); leader((321, 1026), (330, 1025), (335, 1021))
# panel j
gene(729, 936, "HMOX1", "g"); leader((771, 936), (780, 938), (788, 939))
gene(749, 966, "APOE", "p", "†"); leader((767, 952), (767, 960))
# panel k
gene(922, 936, "TMEM106B", "r", "†"); leader((983, 935), (988, 932), (993, 932))
vgene(899, 993, "NCKAP5", "g"); leader((899, 994), (899, 999))
vgene(946, 992, "SPRY1", "g"); leader((946, 994), (946, 1007))
vgene(973, 992, "FAXC", "g"); leader((973, 995), (973, 1002), (984, 1008))
vgene(986, 992, "USP45", "g"); leader((986, 995), (986, 1002))
vgene(1052, 992, "CTNNA3", "g", "†", 1047, 941); leader((1052, 994), (1052, 1007))
vgene(1066, 992, "ABCC9", "p", "†", 1061, 950); leader((1065, 994), (1065, 1014), (1078, 1021))
vgene(1077, 991, "ATF7IP", "g"); leader((1079, 994), (1079, 1007))
vgene(1089, 991, "HSPB8", "g"); leader((1089, 994), (1089, 1007))
vgene(1102, 991, "GPC5", "g"); leader((1102, 994), (1102, 1005))
vgene(1121, 991, "TMCO5A", "g"); leader((1123, 994), (1123, 1005))
vgene(1139, 992, "FOXF1", "p", "†", 1134, 955); leader((1140, 994), (1140, 1019))
gene(1158, 966, "GRN", "r", "†", 1182, 961); leader((1157, 966), (1150, 966), (1148, 993))
gene(1158, 987, "MAPT", "p", "†", 1188, 982); leader((1174, 994), (1174, 1015), (1148, 1020))

# known and new loci lists
KNOWN_HEAD = [(11, 564, "Genome-wide sig. (9 assocs.; red):"),
              (11, 637, r"Sugg. ($P$ < 5 × 10$^{-7}$; 3 assocs; gold):"),
              (11, 696, r"Sugg. ($P$ < 1 × 10$^{-5}$; 12 assocs; purple):")]
KNOWN_ITEMS = [(577, r"$\mathcal{1.\ APOE}$ (5 assocs.)"), (589, r"$\mathcal{2.\ BIN1}$ (Braak)"),
               (602, r"$\mathcal{3.\ GRN}$ (HS)"), (614, r"$\mathcal{4.\ TMEM106B}$ (HS; LATE-NC)"),
               (649, r"$\mathcal{1.\ BIN1}$ (CERAD)"), (662, r"$\mathcal{2.\ CTNNA3}$ (HS)"),
               (674, r"$\mathcal{3.\ PICALM/EED}$ (CAA)"), (708, r"$\mathcal{1.\ ABCC9}$ (HS)"),
               (721, r"$\mathcal{2.\ APOE}$ (Lewy body)"), (733, r"$\mathcal{3.\ CASS4}$ (Aβ plaques)"),
               (746, r"$\mathcal{4.\ FOXF1}$ (HS)"), (758, r"$\mathcal{5.\ GRN}$ (LATE-NC)"),
               (771, r"$\mathcal{6.\ HLA}$-$\mathcal{C}$ (atherosclerosis)"), (783, r"$\mathcal{7.\ LINC}$-$\mathcal{PINT}$ (CERAD)"),
               (795, r"$\mathcal{8.\ MAPT}$ (HS)"), (808, r"$\mathcal{9.\ PICALM/EED}$ (CERAD)"),
               (820, r"$\mathcal{10.\ PTK2B}$ (CAA)"), (833, r"$\mathcal{11.\ RIN3}$ (CERAD)"),
               (845, r"$\mathcal{12.\ TMEM106B}$ (gross infarcts)")]
NEW_ITEMS = [(577, r"$\mathcal{1.\ PIK3R5}$ (Braak NFT stage)"), (589, r"$\mathcal{2.\ LZTS1}$ (arteriolosclerosis)"),
             (602, r"$\mathcal{3.\ COL4A1}$ (atherosclerosis)"), (614, r"$\mathcal{4.\ APOC2}$ (CAA)"),
             (649, "see Supplementary Table 2")]
label(0, 547, "Known disease loci", size=9)
for x, y, s in KNOWN_HEAD:
    label(x, y, s, size=7.1)
for y, s in KNOWN_ITEMS:
    label(17, y, s, size=7.1)
label(1018, 547, "New disease loci", size=9)
label(1025.5, 564, "Genome-wide sig. (4 assocs; red):", size=7.2)
label(1025.5, 637, r"Sugg. ($P$ < 5 × 10$^{-7}$; 24 assocs; gold):", size=6.9)
for y, s in NEW_ITEMS:
    label(1032, y, s, size=7.1)

# key along the bottom
KEY_DOTS = [(17, 1142, "r"), (17, 1160, "g"), (229, 1160, "p")]
for x, y, cls in KEY_DOTS:
    ov.scatter([x], [y], s=110, color={"r": "#e0202c", "g": "#ef9a2b", "p": "#cf3fe8"}[cls], linewidths=0)
label(29, 1142, r"Genome-wide sig. ($P$ < 5 × 10$^{-8}$)", size=6.8)
label(29, 1160, r"Near genome-wide sig. ($P$ < 5 × 10$^{-7}$)", size=7.0)
label(241, 1153, r"Suggestive sig. ($P$ < 1 × 10$^{-5}$) and putative", size=7.3)
label(241, 1165, "disease gene from previous studies", size=7.3)
label(539, 1153, "‡", size=8, fontweight="bold")
label(545, 1153, "Putative new disease", size=7.2)
label(539, 1165, "gene identified herein", size=7.2)
label(680, 1153, "†", size=8, fontweight="bold")
label(686, 1153, "Putative disease gene", size=7.2)
label(680, 1165, "from previous studies", size=7.2)
label(820, 1153, "*", size=9, fontweight="bold")
label(826, 1153, r"Genome-wide significant hits within broader $\mathcal{APOE}$", size=7.3)
label(820, 1165, "region that did not survive conditional analysis", size=7.3)

fig.savefig("out.png", dpi=100)
